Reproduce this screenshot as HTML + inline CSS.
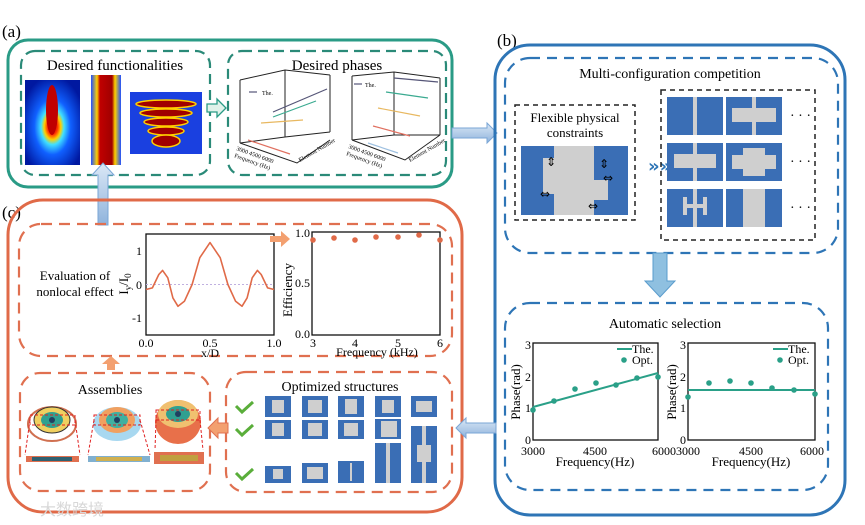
<!DOCTYPE html>
<html><head><meta charset="utf-8"><style>
html,body{margin:0;padding:0;background:#fff;}
svg{display:block;font-family:"Liberation Serif",serif;}
</style></head><body>
<svg width="865" height="525" viewBox="0 0 865 525" xmlns="http://www.w3.org/2000/svg">
<defs>
<radialGradient id="h1" cx="50%" cy="55%" r="60%"><stop offset="0" stop-color="#a00000"/><stop offset="0.15" stop-color="#ff3000"/><stop offset="0.25" stop-color="#ffd000"/><stop offset="0.35" stop-color="#40e0ff"/><stop offset="0.55" stop-color="#1060ff"/><stop offset="1" stop-color="#0018a0"/></radialGradient>
<linearGradient id="h2" x1="0" x2="1"><stop offset="0" stop-color="#2050ff"/><stop offset="0.2" stop-color="#ffd000"/><stop offset="0.3" stop-color="#c00000"/><stop offset="0.7" stop-color="#a00000"/><stop offset="0.8" stop-color="#ffd000"/><stop offset="1" stop-color="#2050ff"/></linearGradient>
<linearGradient id="ba" x1="0" x2="0" y1="0" y2="1"><stop offset="0" stop-color="#dbe8f6"/><stop offset="1" stop-color="#8fb3dc"/></linearGradient>
</defs>

<text x="2" y="37" font-size="17">(a)</text>
<text x="497" y="46" font-size="17">(b)</text>
<text x="2" y="218" font-size="17">(c)</text>

<rect x="8" y="40" width="444" height="147" rx="20" fill="none" stroke="#2a9b86" stroke-width="3"/>
<rect x="21" y="51" width="189" height="124" rx="14" fill="none" stroke="#2a8a78" stroke-width="2.2" stroke-dasharray="10,6"/>
<rect x="228" y="51" width="218" height="124" rx="14" fill="none" stroke="#2a8a78" stroke-width="2.2" stroke-dasharray="10,6"/>
<text x="115" y="70" font-size="15" text-anchor="middle">Desired functionalities</text>
<text x="337" y="70" font-size="15" text-anchor="middle">Desired phases</text>
<rect x="25" y="80" width="55" height="85" fill="url(#h1)"/>
<ellipse cx="52" cy="110" rx="6" ry="25" fill="#c00000"/>
<rect x="91" y="75" width="30" height="90" fill="url(#h2)"/>
<rect x="130" y="92" width="72" height="62" fill="#1a40e0"/>
<g fill="#a00000" stroke="#ffd000" stroke-width="1.5">
<ellipse cx="166" cy="104" rx="30" ry="4"/><ellipse cx="166" cy="113" rx="26" ry="4"/><ellipse cx="166" cy="122" rx="22" ry="4"/><ellipse cx="166" cy="131" rx="18" ry="4"/><ellipse cx="166" cy="141" rx="14" ry="6"/></g>
<path d="M207,104 h10 v-5 l9,9 l-9,9 v-5 h-10z" fill="#e0f2ea" stroke="#2a9b86" stroke-width="1.3"/>
<g fill="none" stroke="#222" stroke-width="1">
<path d="M240,80 L285,70 L330,75 M240,80 V143 M285,70 V137 M330,75 V132 M240,143 L297,163 L330,140 M240,143 L285,137 L330,132"/>
<path d="M352,76 L394,72 L440,78 M352,76 V140 M394,72 V135 M440,78 V135 M352,140 L405,160 L440,135 M352,140 L394,135 L440,135"/>
</g>
<g stroke-width="1.2">
<line x1="249" y1="92" x2="257" y2="92" stroke="#557"/><line x1="273" y1="112" x2="327" y2="89" stroke="#557"/>
<line x1="273" y1="117" x2="316" y2="101" stroke="#3aaa90"/><line x1="261" y1="123" x2="303" y2="120" stroke="#e8b860"/>
<line x1="248" y1="140" x2="290" y2="154" stroke="#e07060"/>
<line x1="354" y1="84" x2="362" y2="84" stroke="#557"/><line x1="394" y1="78" x2="438" y2="82" stroke="#557"/>
<line x1="386" y1="92" x2="428" y2="98" stroke="#3aaa90"/><line x1="378" y1="108" x2="420" y2="116" stroke="#e8b860"/>
<line x1="373" y1="126" x2="410" y2="136" stroke="#e07060"/><line x1="368" y1="143" x2="398" y2="153" stroke="#9ec0e0"/>
</g>
<text x="262" y="95" font-size="6">The.</text><text x="365" y="87" font-size="6">The.</text>
<text x="236" y="150" font-size="6" transform="rotate(20 236 150)">3000  4500  6000</text>
<text x="234" y="157" font-size="6" transform="rotate(20 234 157)">Frequency (Hz)</text>
<text x="300" y="162" font-size="6" transform="rotate(-30 300 162)">Element Number</text>
<text x="348" y="148" font-size="6" transform="rotate(20 348 148)">3000  4500  6000</text>
<text x="346" y="155" font-size="6" transform="rotate(20 346 155)">Frequency (Hz)</text>
<text x="410" y="162" font-size="6" transform="rotate(-30 410 162)">Element Number</text>

<path d="M452,128 h35 v-5 l10,10 l-10,10 v-5 h-35z" fill="url(#ba)" stroke="#7aa6d6"/>
<path d="M98,225 v-50 h-6 l11,-12 l11,12 h-6 v50z" fill="url(#ba)" stroke="#7aa6d6"/>

<rect x="495" y="45" width="350" height="470" rx="35" fill="none" stroke="#2e75b6" stroke-width="3"/>
<rect x="505" y="58" width="333" height="195" rx="25" fill="none" stroke="#2e75b6" stroke-width="2.2" stroke-dasharray="10,7"/>
<text x="670" y="78" font-size="14" text-anchor="middle">Multi-configuration competition</text>
<rect x="515" y="105" width="120" height="115" fill="none" stroke="#222" stroke-width="1.5" stroke-dasharray="5,4"/>
<text x="575" y="122" font-size="13" text-anchor="middle">Flexible physical</text>
<text x="575" y="137" font-size="13" text-anchor="middle">constraints</text>
<rect x="521" y="146" width="107" height="69" fill="#3a6eb5"/>
<path d="M554,146 h40 v34 h14 v20 h-14 v15 h-40 v-21 h-11 v-36 h11z" fill="#cfcfcf"/>
<g font-size="12" text-anchor="middle" font-family="DejaVu Sans"><text x="551" y="166">⇕</text><text x="604" y="168">⇕</text><text x="608" y="182">⇔</text><text x="545" y="198">⇔</text><text x="593" y="210">⇔</text></g>
<text x="648" y="172" font-size="18" fill="#2e75b6" font-weight="bold" font-family="DejaVu Sans">»»</text>
<rect x="661" y="90" width="154" height="150" fill="none" stroke="#222" stroke-width="1.5" stroke-dasharray="5,4"/>
<g fill="#3a6eb5"><rect x="667" y="97" width="56" height="38"/><rect x="726" y="97" width="56" height="38"/><rect x="667" y="143" width="56" height="38"/><rect x="726" y="143" width="56" height="38"/><rect x="667" y="189" width="56" height="38"/><rect x="726" y="189" width="56" height="38"/></g>
<g fill="#cfcfcf"><rect x="693" y="97" width="4" height="38"/><rect x="752" y="97" width="4" height="38"/><rect x="732" y="108" width="44" height="14"/>
<rect x="693" y="143" width="4" height="38"/><rect x="674" y="154" width="42" height="14"/><rect x="743" y="148" width="22" height="28"/><rect x="732" y="155" width="44" height="14"/>
<rect x="693" y="189" width="4" height="38"/><rect x="683" y="204" width="24" height="4"/><rect x="683" y="197" width="4" height="18"/><rect x="703" y="197" width="4" height="18"/><rect x="743" y="189" width="22" height="38"/></g>
<g font-size="14"><text x="790" y="120">· · ·</text><text x="790" y="166">· · ·</text><text x="790" y="212">· · ·</text></g>
<path d="M653,253 v28 h-8 l15,16 l15,-16 h-8 v-28z" fill="#8fc0e0" stroke="#5a9ccd"/>
<rect x="505" y="303" width="323" height="187" rx="25" fill="none" stroke="#2e75b6" stroke-width="2.2" stroke-dasharray="10,7"/>
<text x="665" y="328" font-size="14" text-anchor="middle">Automatic selection</text>
<g fill="none" stroke="#111" stroke-width="1.3"><rect x="533" y="343" width="125" height="97"/><rect x="688" y="343" width="127" height="97"/></g>
<g font-size="12" text-anchor="end"><text x="531" y="349">3</text><text x="531" y="381">2</text><text x="531" y="412">1</text><text x="531" y="444">0</text><text x="686" y="349">3</text><text x="686" y="381">2</text><text x="686" y="412">1</text><text x="686" y="444">0</text></g>
<g font-size="12" text-anchor="middle"><text x="533" y="455">3000</text><text x="595" y="455">4500</text><text x="664" y="455">6000</text><text x="688" y="455">3000</text><text x="751" y="455">4500</text><text x="812" y="455">6000</text>
<text x="595" y="466" font-size="13">Frequency(Hz)</text><text x="751" y="466" font-size="13">Frequency(Hz)</text></g>
<text x="0" y="0" font-size="13" text-anchor="middle" transform="translate(520 392) rotate(-90)">Phase(rad)</text>
<text x="0" y="0" font-size="13" text-anchor="middle" transform="translate(676 392) rotate(-90)">Phase(rad)</text>
<g stroke="#2aa088" stroke-width="2"><line x1="533" y1="407" x2="658" y2="373"/><line x1="688" y1="390" x2="815" y2="390"/><line x1="617" y1="349" x2="632" y2="349"/><line x1="773" y1="349" x2="788" y2="349"/></g>
<g font-size="12"><text x="632" y="353">The.</text><text x="632" y="364">Opt.</text><text x="788" y="353">The.</text><text x="788" y="364">Opt.</text></g>
<g fill="#2aa088"><circle cx="624" cy="360" r="2.8"/><circle cx="780" cy="360" r="2.8"/>
<circle cx="533" cy="410" r="2.8"/><circle cx="554" cy="401" r="2.8"/><circle cx="575" cy="389" r="2.8"/><circle cx="596" cy="383" r="2.8"/><circle cx="616" cy="385" r="2.8"/><circle cx="637" cy="378" r="2.8"/><circle cx="658" cy="377" r="2.8"/>
<circle cx="688" cy="397" r="2.8"/><circle cx="709" cy="383" r="2.8"/><circle cx="730" cy="381" r="2.8"/><circle cx="751" cy="383" r="2.8"/><circle cx="772" cy="388" r="2.8"/><circle cx="794" cy="390" r="2.8"/><circle cx="815" cy="394" r="2.8"/></g>

<rect x="8" y="200" width="454" height="312" rx="35" fill="none" stroke="#e06a48" stroke-width="3"/>
<rect x="19" y="224" width="433" height="132" rx="22" fill="none" stroke="#e07050" stroke-width="2.2" stroke-dasharray="11,7"/>
<text x="75" y="280" font-size="13" text-anchor="middle">Evaluation of</text>
<text x="75" y="296" font-size="13" text-anchor="middle">nonlocal effect</text>
<g fill="none" stroke="#111" stroke-width="1.3"><rect x="146" y="234" width="128" height="101"/><rect x="312" y="232" width="128" height="103"/></g>
<line x1="146" y1="284.5" x2="274" y2="284.5" stroke="#c0b0e0" stroke-dasharray="2,2"/>
<polyline fill="none" stroke="#e06a48" stroke-width="1.6" stroke-linejoin="round" points="146,289.5 152.4,287.9 158.8,274.5 162.6,270.4 167.8,277.8 172.9,297.9 178,306.3 184.4,301.3 192.1,284.5 199.8,257.7 210,242.6 220.2,257.7 227.9,284.5 235.6,301.3 242,306.3 247.1,297.9 252.2,277.8 257.4,270.4 261.2,274.5 267.6,287.9 274,289.5"/>
<g font-size="12" text-anchor="end"><text x="142" y="255">1</text><text x="142" y="289">0</text><text x="142" y="322">-1</text><text x="310" y="237">1.0</text><text x="310" y="287">0.5</text><text x="310" y="338">0.0</text></g>
<g font-size="12" text-anchor="middle"><text x="146" y="347">0.0</text><text x="210" y="347">0.5</text><text x="274" y="347">1.0</text><text x="210" y="357">x/D</text>
<text x="313" y="347">3</text><text x="355" y="347">4</text><text x="398" y="347">5</text><text x="440" y="347">6</text><text x="377" y="356">Frequency (kHz)</text></g>
<text x="0" y="0" font-size="13" text-anchor="middle" transform="translate(128 284) rotate(-90)">I<tspan font-size="9" dy="3">y</tspan><tspan dy="-3">/I</tspan><tspan font-size="9" dy="3">0</tspan></text>
<text x="0" y="0" font-size="13" text-anchor="middle" transform="translate(292 290) rotate(-90)">Efficiency</text>
<path d="M270,236 h11 v-5 l9,8 l-9,8 v-5 h-11z" fill="#f3a070"/>
<g fill="#e06a48"><circle cx="313" cy="240" r="2.8"/><circle cx="334" cy="238" r="2.8"/><circle cx="355" cy="240" r="2.8"/><circle cx="376" cy="237" r="2.8"/><circle cx="398" cy="237" r="2.8"/><circle cx="419" cy="235" r="2.8"/><circle cx="440" cy="240" r="2.8"/></g>
<path d="M107,370 v-6 h-5 l9,-8 l9,8 h-5 v6z" fill="#f3a070"/>
<rect x="20" y="373" width="190" height="118" rx="20" fill="none" stroke="#e07050" stroke-width="2.2" stroke-dasharray="11,7"/>
<rect x="226" y="372" width="226" height="120" rx="20" fill="none" stroke="#e07050" stroke-width="2.2" stroke-dasharray="11,7"/>
<text x="110" y="394" font-size="14" text-anchor="middle">Assemblies</text>
<text x="340" y="391" font-size="14" text-anchor="middle">Optimized structures</text>
<g>
<ellipse cx="52" cy="424" rx="24" ry="17" fill="#fff" stroke="#d07050" stroke-width="2"/><ellipse cx="52" cy="420" rx="18" ry="13" fill="#f0d060" stroke="#333"/><ellipse cx="52" cy="420" rx="11" ry="8" fill="#30a090"/><circle cx="52" cy="420" r="3" fill="#204060"/>
<ellipse cx="117" cy="424" rx="24" ry="17" fill="#a8d8f0"/><ellipse cx="117" cy="420" rx="18" ry="13" fill="#f0a060"/><ellipse cx="117" cy="420" rx="11" ry="8" fill="#40b0a0"/><circle cx="117" cy="420" r="3" fill="#204060"/>
<ellipse cx="178" cy="422" rx="23" ry="22" fill="#e8704a"/><ellipse cx="178" cy="414" rx="20" ry="14" fill="#f0c070"/><ellipse cx="178" cy="414" rx="12" ry="8" fill="#30a090"/><circle cx="178" cy="414" r="3" fill="#204060"/>
<g stroke="#e02020" stroke-dasharray="3,2" fill="none"><path d="M30,420 L25,455 M75,420 L80,455 M94,420 L88,455 M140,420 L150,455 M156,420 L155,450 M200,420 L203,450"/><rect x="30" y="415" width="45" height="10"/><rect x="94" y="415" width="46" height="10"/><rect x="156" y="410" width="44" height="10"/></g>
<rect x="26" y="456" width="53" height="6" fill="#e07050"/><rect x="32" y="457" width="40" height="4" fill="#306070"/>
<rect x="88" y="456" width="62" height="6" fill="#80b0d0"/><rect x="96" y="457" width="46" height="4" fill="#d0b050"/>
<rect x="154" y="452" width="50" height="12" fill="#e07050"/><rect x="160" y="455" width="38" height="6" fill="#c0a040"/>
</g>
<path d="M228,423 h-10 v-5 l-10,10 l10,10 v-5 h10z" fill="#f3a070" stroke="#e07050"/>
<path d="M496,423 h-30 v-5 l-10,10 l10,10 v-5 h30z" fill="url(#ba)" stroke="#7aa6d6"/>
<g fill="none" stroke="#5aae3a" stroke-width="3"><path d="M236,406 l6,6 l11,-10"/><path d="M236,429 l6,6 l11,-10"/><path d="M236,473 l6,6 l11,-10"/></g>
<g fill="#3a6eb5">
<rect x="265" y="396" width="26" height="21"/><rect x="302" y="396" width="26" height="21"/><rect x="338" y="396" width="26" height="21"/><rect x="375" y="396" width="26" height="21"/><rect x="411" y="396" width="26" height="21"/>
<rect x="265" y="420" width="26" height="19"/><rect x="302" y="420" width="26" height="19"/><rect x="338" y="420" width="26" height="19"/><rect x="375" y="419" width="26" height="20"/>
<rect x="375" y="443" width="26" height="40"/><rect x="411" y="426" width="26" height="57"/>
<rect x="265" y="466" width="26" height="17"/><rect x="302" y="463" width="26" height="20"/><rect x="338" y="461" width="26" height="22"/>
</g>
<g fill="#cfcfcf">
<rect x="272" y="400" width="12" height="13"/><rect x="308" y="400" width="14" height="13"/><rect x="345" y="399" width="12" height="15"/><rect x="382" y="400" width="12" height="13"/><rect x="416" y="401" width="16" height="11"/>
<rect x="272" y="423" width="12" height="13"/><rect x="308" y="423" width="14" height="13"/><rect x="344" y="423" width="14" height="13"/><rect x="381" y="421" width="16" height="16"/>
<rect x="386" y="443" width="4" height="40"/><rect x="417" y="445" width="14" height="17"/><rect x="422" y="426" width="4" height="57"/>
<rect x="273" y="469" width="10" height="10"/><rect x="307" y="467" width="16" height="12"/><rect x="350" y="463" width="2" height="18"/>
</g>
<text x="40" y="515" font-size="16" fill="#d8d8d8" font-family="'Liberation Sans','Noto Sans CJK SC',sans-serif">大数跨境</text>
</svg>
</body></html>
